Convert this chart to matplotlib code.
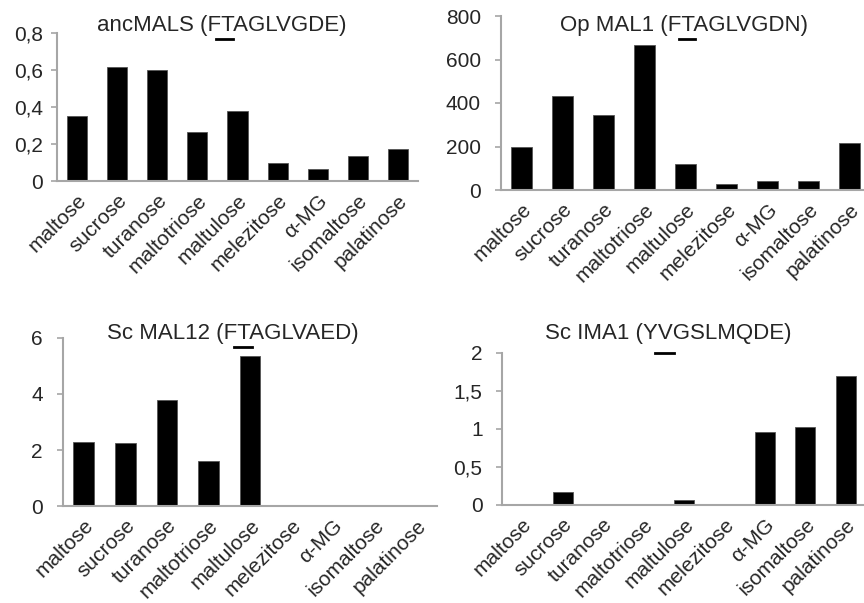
import matplotlib
matplotlib.use("Agg")
import matplotlib.pyplot as plt
from matplotlib.lines import Line2D
from matplotlib.ticker import FuncFormatter

# ---- data ----
sugars = ["maltose", "sucrose", "turanose", "maltotriose", "maltulose",
          "melezitose", "α-MG", "isomaltose", "palatinose"]

anc_mals = [0.354, 0.617, 0.60, 0.265, 0.376, 0.095, 0.063, 0.136, 0.173]
op_mal1 = [199, 432, 345, 667, 120, 26, 41, 41, 215]
sc_mal12 = [2.30, 2.24, 3.79, 1.62, 5.34, 0, 0.04, 0, 0]
sc_ima1 = [0, 0.167, 0, 0, 0.066, 0, 0.955, 1.03, 1.70]

titles = ["ancMALS (FTAGLVGDE)", "Op MAL1 (FTAGLVGDN)",
          "Sc MAL12 (FTAGLVAED)", "Sc IMA1 (YVGSLMQDE)"]
yticks = [[0, 0.2, 0.4, 0.6, 0.8], [0, 200, 400, 600, 800],
          [0, 2, 4, 6], [0, 0.5, 1, 1.5, 2]]

plt.rcParams["font.family"] = ["Liberation Sans", "DejaVu Sans"]

W, H = 864, 603
fig = plt.figure(figsize=(W / 100, H / 100), dpi=100)


def px_axes(left, right, zero_y, top_y):
    # pixel box (top-left origin) -> figure fraction
    return fig.add_axes([left / W, 1 - zero_y / H, (right - left) / W, (zero_y - top_y) / H])


def comma(v, pos):
    s = ("%g" % v)
    return s.replace(".", ",")


# (left, right, y of zero, y of top tick), label pad, title pos, underline
layout = [
    ((57, 418, 181, 33), 5.5, (222, 25), (216, 233, 39)),
    ((501, 870, 190, 16), 10, (684, 25), (679, 695, 39)),
    ((63, 437, 506, 338), 10, (233, 333), (234, 252, 347)),
    ((502, 866, 505, 353), 9.5, (668, 333), (655, 674, 353)),
]
data = [anc_mals, op_mal1, sc_mal12, sc_ima1]
grey = "#a6a6a6"
txt = "#262626"

for i in range(4):
    box, pad, tpos, uline = layout[i]
    ax = px_axes(*box)
    x = range(len(sugars))
    ax.bar(x, data[i], width=0.5, color="black", edgecolor="#555555", linewidth=0.6)
    ax.set_xlim(-0.5, len(sugars) - 0.5)
    ax.set_ylim(0, yticks[i][-1])
    ax.set_yticks(yticks[i])
    ax.yaxis.set_major_formatter(FuncFormatter(comma))
    ax.set_xticks(list(x))
    ax.set_xticklabels(sugars, rotation=45, ha="right", rotation_mode="anchor",
                       fontsize=15, color=txt)
    ax.tick_params(axis="x", length=0, pad=7)
    ax.tick_params(axis="y", length=4.5, width=1.2, color=grey, pad=pad,
                   labelsize=15, labelcolor=txt)
    for s in ["top", "right"]:
        ax.spines[s].set_visible(False)
    for s in ["left", "bottom"]:
        ax.spines[s].set_color(grey)
        ax.spines[s].set_linewidth(1.5)
    fig.text(tpos[0] / W, 1 - tpos[1] / H, titles[i], ha="center", va="center",
             fontsize=16, color=txt)
    # underline marking one residue
    fig.add_artist(Line2D([uline[0] / W, uline[1] / W], [1 - uline[2] / H, 1 - uline[2] / H],
                          transform=fig.transFigure, color="black", linewidth=2))

fig.savefig("out.png", dpi=100)
